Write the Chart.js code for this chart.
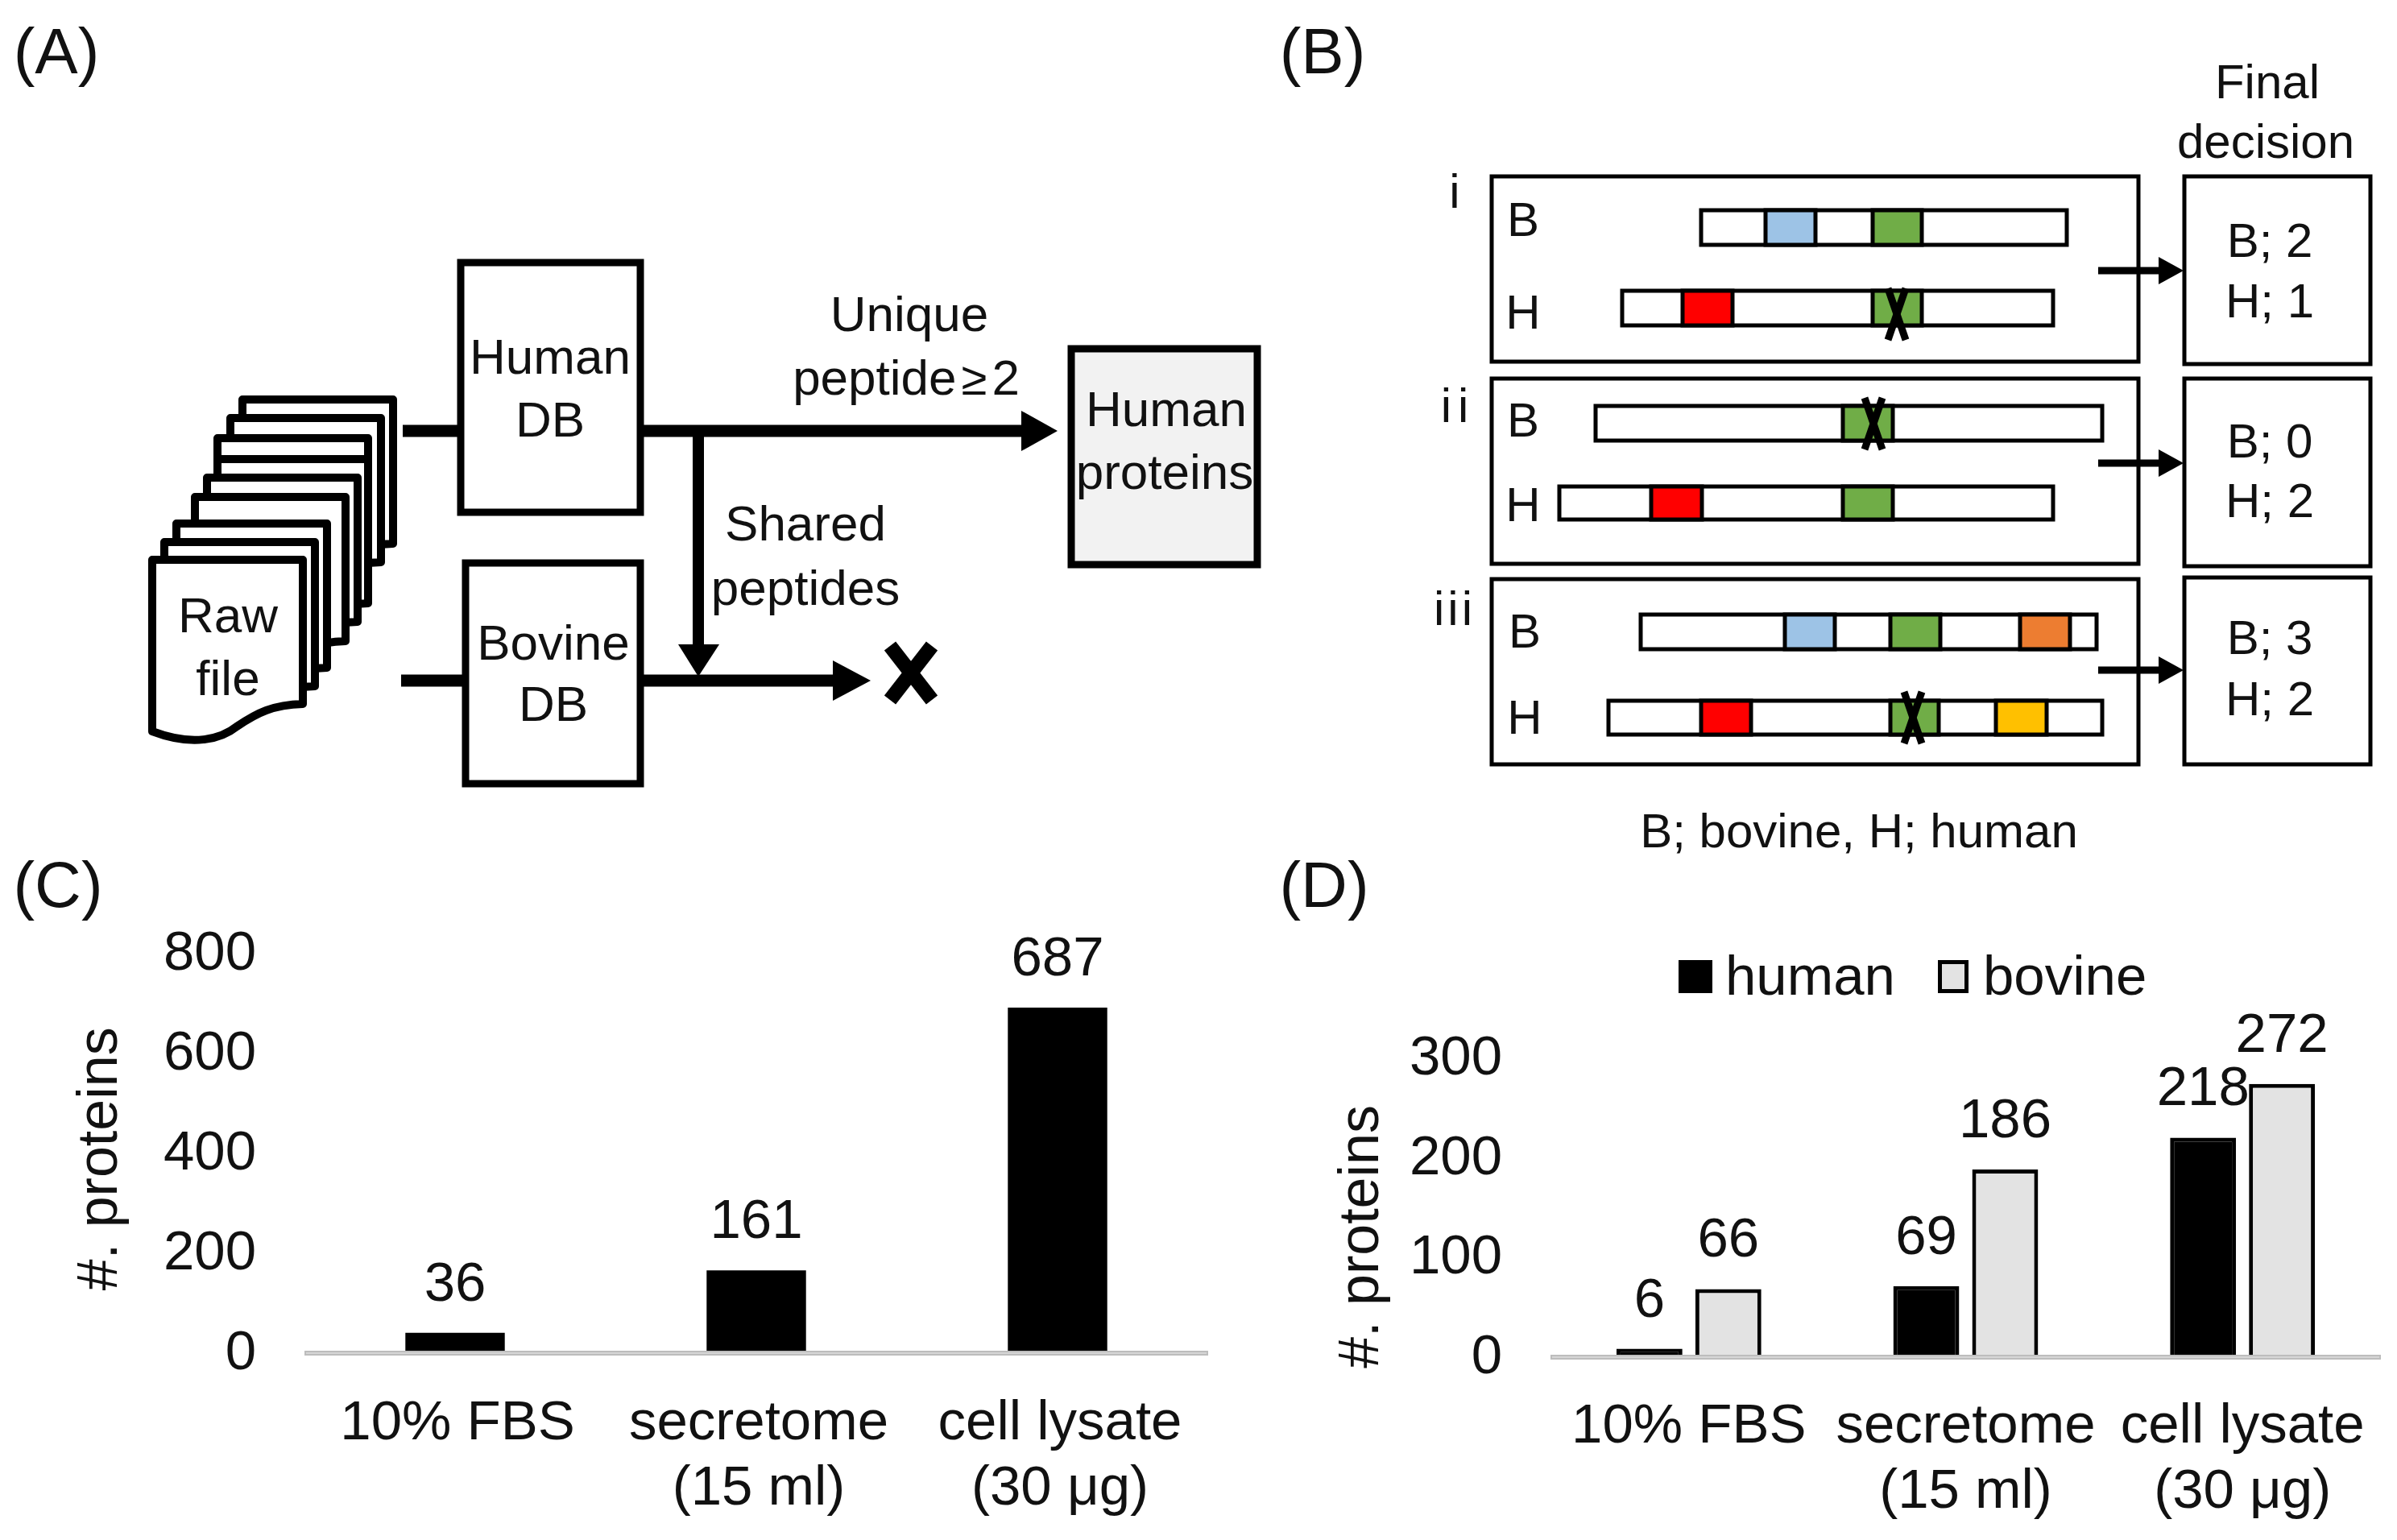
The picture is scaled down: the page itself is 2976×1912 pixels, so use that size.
<!DOCTYPE html>
<html>
<head>
<meta charset="utf-8">
<title>Protein identification</title>
<script src="https://cdn.jsdelivr.net/npm/chart.js@4"></script>
<style>
  html, body { margin: 0; background: #fff; }
  #page { position: relative; width: 2976px; height: 1912px; overflow: hidden; }
  #page canvas, #page svg { position: absolute; }
  #diagram text { font-family: "Liberation Sans", Arial, sans-serif; fill: #111; }
</style>
</head>
<body>
<div id="page">
  <svg id="diagram" width="2976" height="1912" style="left:0;top:0"></svg>
  <canvas id="chartC" width="1560" height="852" style="left:0;top:1060px"></canvas>
  <canvas id="chartD" width="1376" height="852" style="left:1600px;top:1060px"></canvas>
</div>
<script>
// chart data
const categories = [["10% FBS"], ["secretome", "(15 ml)"], ["cell lysate", "(30 μg)"]];
const totalProteins = [36, 161, 687];
const humanProteins = [6, 69, 218];
const bovineProteins = [66, 186, 272];
const ticksC = [0, 200, 400, 600, 800];
const ticksD = [0, 100, 200, 300];

const FONT = "'Liberation Sans', Arial, sans-serif";
const INK = "#111";

// value above every bar
const valueLabels = {
  id: "valueLabels",
  afterDatasetsDraw(chart) {
    const ctx = chart.ctx;
    ctx.save();
    ctx.font = `69px ${FONT}`;
    ctx.fillStyle = INK;
    ctx.textAlign = "center";
    ctx.textBaseline = "alphabetic";
    chart.data.datasets.forEach((ds, d) => {
      chart.getDatasetMeta(d).data.forEach((bar, i) => {
        ctx.fillText(ds.data[i], bar.x, bar.y - 40);
      });
    });
    ctx.restore();
  }
};

// grey axis strip sits just under the bars, the scale border would run through them
const axisStrip = {
  id: "axisStrip",
  afterDatasetsDraw(chart) {
    const { left, right, bottom } = chart.chartArea;
    const ctx = chart.ctx;
    ctx.save();
    ctx.fillStyle = "#d6d6d6";
    ctx.strokeStyle = "#bdbdbd";
    ctx.lineWidth = 2;
    ctx.fillRect(left, bottom, right - left, 6);
    ctx.strokeRect(left + 1, bottom + 1, right - left - 2, 4);
    ctx.restore();
  }
};

// legend of panel D, the built in one leaves too wide a gap after the box
const legendRow = {
  id: "legendRow",
  afterDraw(chart) {
    const ctx = chart.ctx;
    const boxes = [[484, 42], [806, 38]];
    const texts = [542, 862];
    ctx.save();
    ctx.font = `69px ${FONT}`;
    ctx.textBaseline = "alphabetic";
    chart.data.datasets.forEach((ds, d) => {
      const [x, w] = boxes[d];
      ctx.fillStyle = ds.backgroundColor;
      ctx.fillRect(x, 132, w, 41);
      ctx.strokeStyle = ds.borderColor;
      ctx.lineWidth = 5;
      ctx.strokeRect(x + 2.5, 134.5, w - 5, 36);
      ctx.fillStyle = INK;
      ctx.fillText(ds.label, texts[d], 175);
    });
    ctx.restore();
  }
};

function axes(cfg) {
  return {
    x: {
      grid: { display: false, drawTicks: false },
      border: { display: false },
      ticks: {
        color: INK, padding: cfg.xPad, labelOffset: cfg.xShift, maxRotation: 0, autoSkip: false,
        font: { family: FONT, size: 69, lineHeight: 1.18 }
      },
      afterFit: s => {
        s.height = cfg.xHeight;
        // tick padding otherwise eats into the plot width
        s.paddingLeft = 0;
        s.paddingRight = 0;
      }
    },
    y: {
      min: 0, max: cfg.yMax,
      grid: { display: false, drawTicks: false },
      border: { display: false },
      ticks: {
        color: INK, padding: 60, labelOffset: 4, stepSize: cfg.yStep,
        font: { family: FONT, size: 69 },
        callback: v => cfg.yTicks.includes(v) ? v : ""
      },
      title: {
        display: true, text: cfg.title, color: INK,
        font: { family: FONT, size: 70 },
        padding: { top: cfg.titlePad, bottom: 0 }
      },
      afterFit: s => { s.width = cfg.yWidth; }
    }
  };
}

new Chart(document.getElementById("chartC"), {
  type: "bar",
  data: {
    labels: categories,
    datasets: [{
      label: "proteins",
      data: totalProteins,
      backgroundColor: "#000",
      barPercentage: 0.33,
      categoryPercentage: 1
    }]
  },
  options: {
    responsive: false,
    animation: false,
    layout: { padding: { top: 121, right: 60, bottom: 0, left: 0 } },
    plugins: { legend: { display: false }, tooltip: { enabled: false } },
    scales: axes({
      yMax: 800, yStep: 200, yTicks: ticksC, yWidth: 378, xHeight: 235,
      xPad: 50, xShift: 3, titlePad: 84, title: "#. proteins "
    })
  },
  plugins: [axisStrip, valueLabels]
});

new Chart(document.getElementById("chartD"), {
  type: "bar",
  data: {
    labels: categories,
    datasets: [
      {
        label: "human",
        data: humanProteins,
        backgroundColor: "#000",
        borderColor: "#000",
        borderWidth: 5,
        barPercentage: 0.836,
        categoryPercentage: 0.57
      },
      {
        label: "bovine",
        data: bovineProteins,
        backgroundColor: "#e3e3e3",
        borderColor: "#000",
        borderWidth: 5,
        barPercentage: 0.836,
        categoryPercentage: 0.57
      }
    ]
  },
  options: {
    responsive: false,
    animation: false,
    layout: { padding: { top: 251, right: 20, bottom: 0, left: 0 } },
    plugins: { legend: { display: false }, tooltip: { enabled: false } },
    scales: axes({
      yMax: 300, yStep: 100, yTicks: ticksD, yWidth: 325, xHeight: 230,
      xPad: 49, xShift: 0, titlePad: 50, title: "#. proteins    "
    })
  },
  plugins: [axisStrip, valueLabels, legendRow]
});

// panels A and B are plain diagrams, built as svg
let svg = "";

function label(x, y, str, size, extra) {
  // y is the middle of the capitals
  svg += `<text x="${x}" y="${y + size * 0.36}" font-size="${size}" text-anchor="middle" ${extra || ""}>${str}</text>`;
}
function box(x1, y1, x2, y2, stroke, fill) {
  svg += `<rect x="${x1}" y="${y1}" width="${x2 - x1}" height="${y2 - y1}" fill="${fill || "#fff"}" stroke="#000" stroke-width="${stroke}"/>`;
}
function line(x1, y1, x2, y2, stroke) {
  svg += `<line x1="${x1}" y1="${y1}" x2="${x2}" y2="${y2}" stroke="#000" stroke-width="${stroke}"/>`;
}
function arrowRight(x1, x2, tip, y, stroke, half) {
  line(x1, y, x2, y, stroke);
  svg += `<polygon points="${x2},${y - half} ${tip},${y} ${x2},${y + half}" fill="#000"/>`;
}
function page(x, y) {
  svg += `<path d="M${x} ${y}h187v179c-37 1-57 11-82 28c-20 16-55 25-105 6z" fill="#fff" stroke="#000" stroke-width="10" stroke-linejoin="round"/>`;
}

// --- panel A
label(70, 62, "(A)", 80);
[[301, 496], [286, 519], [270, 544], [270, 570], [257, 593], [242, 617], [219, 650], [204, 673], [189, 695]]
  .forEach(p => page(p[0], p[1]));
label(283, 763, "Raw", 62);
label(283, 841, "file", 62);

arrowRight(500, 1268, 1313, 535, 15, 25);
arrowRight(498, 1034, 1081, 845, 15, 25);
line(867, 535, 867, 800, 14);
svg += `<polygon points="842,800 893,800 867,840" fill="#000"/>`;

box(572, 326, 795, 636, 9);
box(578, 699, 795, 973, 9);
box(1330, 433, 1561, 701, 9, "#f2f2f2");
label(683, 442, "Human", 62);
label(683, 520, "DB", 62);
label(687, 797, "Bovine", 62);
label(687, 873, "DB", 62);
label(1448, 507, "Human", 62);
label(1446, 585, "proteins", 62);
label(1129, 389, "Unique", 62);
svg += `<text x="1125" y="490" font-size="62" text-anchor="middle">peptide<tspan font-size="58" dx="6">≥</tspan><tspan dx="6">2</tspan></text>`;
label(1000, 649, "Shared", 62);
label(1000, 729, "peptides", 62);
line(1105, 802, 1157, 869, 18);
line(1157, 802, 1105, 869, 18);

// --- panel B
label(1642, 62, "(B)", 80);
label(2815, 100, "Final", 60);
label(2813, 174, "decision", 60);
label(2308, 1030, "B; bovine, H; human", 60);

const BLUE = "#9dc3e6", GREEN = "#70ad47", RED = "#ff0000", ORANGE = "#ed7d31", YELLOW = "#ffc000";

[[219, 449], [470, 700], [719, 949]].forEach(r => box(1852, r[0], 2655, r[1], 5));
[[219, 452], [470, 703], [717, 949]].forEach(r => box(2712, r[0], 2943, r[1], 5));

// x1, x2, top, bottom, then the coloured stretches
[
  [2112, 2566, 261, 304, [[2192, 2254, BLUE], [2325, 2386, GREEN]]],
  [2014, 2549, 361, 404, [[2089, 2151, RED], [2325, 2386, GREEN]]],
  [1981, 2610, 504, 547, [[2288, 2350, GREEN]]],
  [1936, 2549, 604, 645, [[2050, 2113, RED], [2288, 2350, GREEN]]],
  [2037, 2603, 763, 806, [[2216, 2278, BLUE], [2347, 2409, GREEN], [2508, 2570, ORANGE]]],
  [1997, 2610, 870, 912, [[2112, 2174, RED], [2347, 2407, GREEN], [2478, 2541, YELLOW]]]
].forEach(r => {
  box(r[0], r[2], r[1], r[3], 5);
  r[4].forEach(s => box(s[0], r[2], s[1], r[3], 5, s[2]));
});

// crossed out peptides
[[2355, 390], [2326, 526], [2375, 891]].forEach(c => {
  line(c[0] - 11, c[1] - 32, c[0] + 11, c[1] + 32, 9);
  line(c[0] + 11, c[1] - 32, c[0] - 11, c[1] + 32, 9);
});

[336, 575, 832].forEach(y => arrowRight(2605, 2680, 2711, y, 9, 17));

label(1806, 236, "i", 60);
label(1810, 502, "ii", 60, 'letter-spacing="8"');
label(1806, 754, "iii", 60, 'letter-spacing="4"');
label(1891, 271, "B", 60);
label(1891, 386, "H", 60);
label(1891, 520, "B", 60);
label(1891, 625, "H", 60);
label(1893, 782, "B", 60);
label(1893, 889, "H", 60);
label(2818, 297, "B; 2", 60);
label(2818, 372, "H; 1", 60);
label(2818, 546, "B; 0", 60);
label(2818, 620, "H; 2", 60);
label(2818, 790, "B; 3", 60);
label(2818, 866, "H; 2", 60);

// --- captions of the chart panels
label(72, 1097, "(C)", 80);
label(1644, 1097, "(D)", 80);

document.getElementById("diagram").innerHTML = svg;
</script>
</body>
</html>
